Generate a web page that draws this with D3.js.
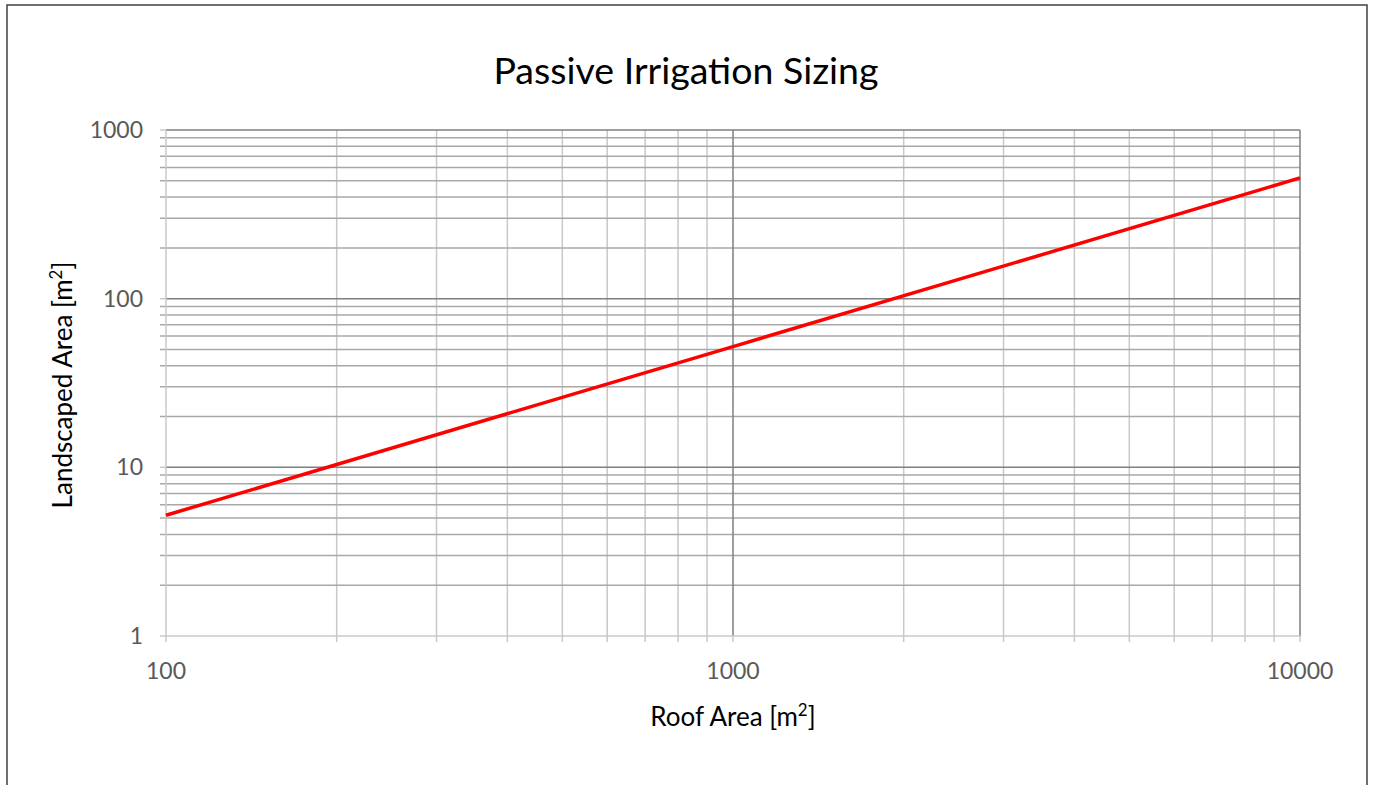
<!DOCTYPE html>
<html><head><meta charset="utf-8">
<script src="https://cdn.jsdelivr.net/npm/d3@7"></script>
<style>body{margin:0;background:#fff}</style>
</head><body>
<svg id="c" width="1375" height="785"></svg>
<script>
const roofArea = [100, 1000, 10000];
const landscapedArea = [5.2, 52, 520];
const xTicks = [100, 1000, 10000];
const yTicks = [1, 10, 100, 1000];
const title = "Passive Irrigation Sizing";
const xTitle = ["Roof Area [m", "2", "]"];
const yTitle = ["Landscaped Area [m", "2", "]"];

const svg = d3.select("#c");
const L = 166, R = 1300, T = 130, B = 636;
const x = d3.scaleLog().domain([100, 10000]).range([L, R]);
const y = d3.scaleLog().domain([1, 1000]).range([B, T]);
const font = "Lato, 'Open Sans', sans-serif";

svg.append("rect").attr("x", 7).attr("y", 5).attr("width", 1360).attr("height", 790)
  .attr("fill", "#fff").attr("stroke", "#404040").attr("stroke-width", 1.5);

const isMajor = v => Math.abs(Math.log10(v) - Math.round(Math.log10(v))) < 1e-9;
const xAll = x.ticks(), yAll = y.ticks();

// minor grid
svg.append("g").selectAll("line").data(xAll.filter(v => !isMajor(v))).join("line")
  .attr("x1", d => x(d)).attr("x2", d => x(d)).attr("y1", T).attr("y2", B + 6)
  .attr("stroke", "#c8c8c8").attr("stroke-width", 1.5);
svg.append("g").selectAll("line").data(yAll.filter(v => !isMajor(v))).join("line")
  .attr("x1", L - 6).attr("x2", R).attr("y1", d => y(d)).attr("y2", d => y(d))
  .attr("stroke", "#a8a8a8").attr("stroke-width", 1.5);
// major grid
svg.append("g").selectAll("line").data(xAll.filter(v => isMajor(v) && v > 100)).join("line")
  .attr("x1", d => x(d)).attr("x2", d => x(d)).attr("y1", T).attr("y2", B)
  .attr("stroke", "#7f7f7f").attr("stroke-width", 1.5);
svg.append("g").selectAll("line").data(yAll.filter(v => isMajor(v) && v > 1)).join("line")
  .attr("x1", L).attr("x2", R).attr("y1", d => y(d)).attr("y2", d => y(d))
  .attr("stroke", "#7f7f7f").attr("stroke-width", 1.5);
// major tick marks
svg.append("g").selectAll("line").data(xAll.filter(v => isMajor(v))).join("line")
  .attr("x1", d => x(d)).attr("x2", d => x(d)).attr("y1", B).attr("y2", B + 6)
  .attr("stroke", "#c8c8c8").attr("stroke-width", 1.5);
svg.append("g").selectAll("line").data(yAll.filter(v => isMajor(v))).join("line")
  .attr("x1", L - 6).attr("x2", L).attr("y1", d => y(d)).attr("y2", d => y(d))
  .attr("stroke", "#c8c8c8").attr("stroke-width", 1.5);
// axis lines
svg.append("line").attr("x1", L).attr("x2", R).attr("y1", B).attr("y2", B)
  .attr("stroke", "#c8c8c8").attr("stroke-width", 1.5);
svg.append("line").attr("x1", L).attr("x2", L).attr("y1", T).attr("y2", B)
  .attr("stroke", "#c8c8c8").attr("stroke-width", 1.5);

// tick labels
svg.append("g").selectAll("text").data(xTicks).join("text")
  .attr("x", d => x(d)).attr("y", 679).attr("text-anchor", "middle")
  .attr("font-family", font).attr("font-size", 23).attr("fill", "#595959").text(d => d);
svg.append("g").selectAll("text").data(yTicks).join("text")
  .attr("x", 143).attr("y", d => y(d) + 8).attr("text-anchor", "end")
  .attr("font-family", font).attr("font-size", 23).attr("fill", "#595959").text(d => d);

// line
const pts = roofArea.map((r, i) => [r, landscapedArea[i]]);
svg.append("path").datum(pts)
  .attr("d", d3.line().x(d => x(d[0])).y(d => y(d[1])))
  .attr("fill", "none").attr("stroke", "#ff0000").attr("stroke-width", 3.5);

// titles
svg.append("text").attr("x", 686).attr("y", 84).attr("text-anchor", "middle")
  .attr("font-family", font).attr("font-size", 37.5).attr("fill", "#000").text(title);

function sup(t, parts) {
  t.append("tspan").text(parts[0]);
  t.append("tspan").attr("font-size", "65%").attr("dy", -10).text(parts[1]);
  t.append("tspan").attr("dy", 10).text(parts[2]);
}
const xt = svg.append("text").attr("x", 733).attr("y", 726).attr("text-anchor", "middle")
  .attr("font-family", font).attr("font-size", 26).attr("fill", "#000");
sup(xt, xTitle);
const yt = svg.append("text").attr("transform", "translate(72,385) rotate(-90)").attr("text-anchor", "middle")
  .attr("font-family", font).attr("font-size", 26).attr("fill", "#000");
sup(yt, yTitle);
</script>
</body></html>
